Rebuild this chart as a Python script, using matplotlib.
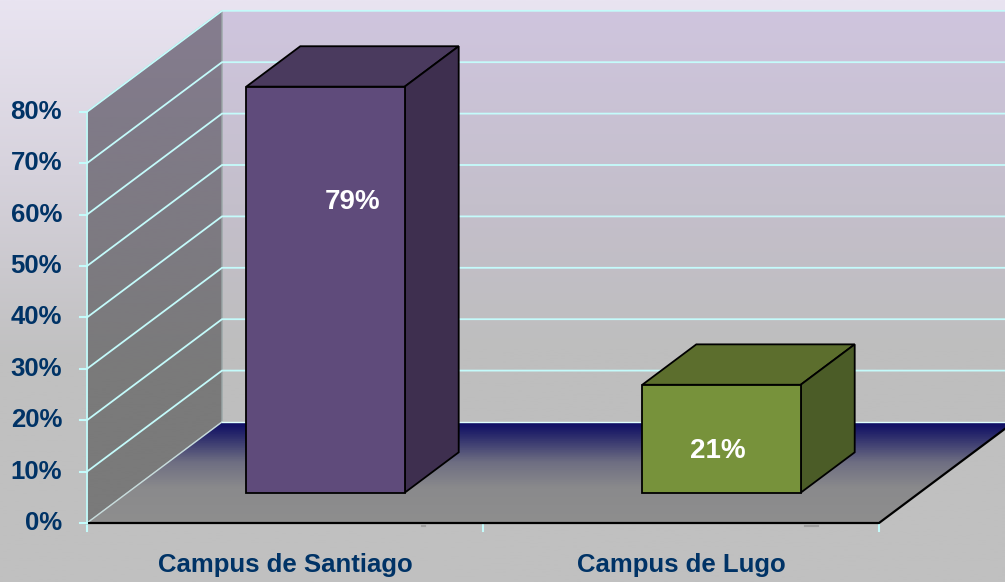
import numpy as np
import matplotlib
matplotlib.use("Agg")
import matplotlib.pyplot as plt
from matplotlib.colors import LinearSegmentedColormap
from matplotlib.patches import Polygon

plt.rcParams["font.family"] = ["Liberation Sans", "DejaVu Sans"]

categories = ["Campus de Santiago", "Campus de Lugo"]
values = [79, 21]
value_labels = ["79%", "21%"]
y_ticks = [0, 10, 20, 30, 40, 50, 60, 70, 80]
y_tick_labels = ["0%", "10%", "20%", "30%", "40%", "50%", "60%", "70%", "80%"]

face_colors = ["#5F4B7B", "#77923B"]
top_colors = ["#4A3A5E", "#5C6E2D"]
side_colors = ["#3E2F4F", "#4B5C27"]

TEXT = "#003366"
GRID = "#C4FBFB"

# one unit in x is one category (396 px), y is in percent (5.14 px per %)
PX_X = 396.0
PX_Y = 5.14
X0 = 87
Y0 = 523
DEPTH_X = 135 / PX_X
DEPTH_Y = 101 / PX_Y
BAR_W = 0.4
BAR_D0 = 0.3
BAR_D1 = 0.7


def pr(x, v, d=0.0):
    """oblique projection: category x, value v, depth d (0 front, 1 back)"""
    return x + d * DEPTH_X, v + d * DEPTH_Y


def gradient(ax, colors, stops, clip, z):
    cmap = LinearSegmentedColormap.from_list("g", list(zip(stops, colors)))
    im = ax.imshow(np.linspace(0, 1, 256).reshape(-1, 1), cmap=cmap, aspect="auto",
                   extent=[ax.get_xlim()[0], ax.get_xlim()[1], ax.get_ylim()[0], ax.get_ylim()[1]],
                   origin="upper", zorder=z)
    if clip is not None:
        patch = Polygon(clip, closed=True, transform=ax.transData, fc="none", ec="none")
        ax.add_patch(patch)
        im.set_clip_path(patch)
    return im


fig = plt.figure(figsize=(10.05, 5.82), dpi=100)
ax = fig.add_axes([0, 0, 1, 1])
ax.set_xlim(-X0 / PX_X, (1005 - X0) / PX_X)
ax.set_ylim((Y0 - 582) / PX_Y, Y0 / PX_Y)
ax.axis("off")

# figure background
gradient(ax, ["#E9E4F1", "#D6D2DC", "#C0C0C0", "#C0C0C0"], [0, 0.3, 0.62, 1], None, 0)

top = y_ticks[-1]

# back wall
wall = [pr(0, 0, 1), pr(2.2, 0, 1), pr(2.2, top, 1), pr(0, top, 1)]
gradient(ax, ["#CFC5DE", "#CFC5DE", "#C4BFCB", "#BEBEBE", "#BEBEBE"], [0, 0.02, 0.35, 0.6, 1], wall, 1)

# side wall
side = [pr(0, 0, 0), pr(0, 0, 1), pr(0, top, 1), pr(0, top, 0)]
gradient(ax, ["#867D90", "#807A88", "#7A7A7A", "#7A7A7A"], [0, 0.2, 0.65, 1], side, 2)
ax.add_patch(Polygon(side, closed=True, fc="none", ec="#9AA7A7", lw=1, zorder=2.5))

# floor
floor = [pr(0, 0, 0), pr(2, 0, 0), pr(2, 0, 1), pr(0, 0, 1)]
gradient(ax, ["#0A0A64", "#0A0A64", "#24246A", "#6E6E82", "#8A8A8C", "#8E8E8E", "#8E8E8E"],
         [0, 0.725, 0.745, 0.795, 0.84, 0.9, 1], floor, 3)

# grid lines
for v in y_ticks:
    xs, ys = zip(pr(0, v, 0), pr(0, v, 1), pr(2.4, v, 1))
    if v == 0:
        ax.plot(xs[:2], ys[:2], color="#C8DCDC", lw=1, zorder=3.5)
        ax.plot(xs[1:], ys[1:], color="#E0FFFF", lw=1, zorder=3.5)
    else:
        ax.plot(xs, ys, color=GRID, lw=1.3, zorder=2.7)

# floor edges
fx, fy = zip(pr(0, 0, 0), pr(2, 0, 0), pr(2, 0, 1))
ax.plot(fx, fy, color="black", lw=1.6, zorder=4, solid_joinstyle="miter")

# axes lines and ticks
ax.plot([0, 0], [0, top], color=GRID, lw=1.3, zorder=4)
for v in y_ticks:
    ax.plot([-7 / PX_X, 0], [v, v], color=GRID, lw=1.5, zorder=4)
for x in [0, 1, 2]:
    ax.plot([x, x], [0, -8 / PX_Y], color=GRID, lw=1.5, zorder=3.9)
for x, w in [(0.849, 3), (1.83, 13)]:
    ax.plot([x - w / 2 / PX_X, x + w / 2 / PX_X], [-3 / PX_Y, -3 / PX_Y], color="#A0A0A0", lw=1.5, zorder=3.9)

# bars
for i, val in enumerate(values):
    x0 = i + 0.5 - BAR_W / 2
    x1 = i + 0.5 + BAR_W / 2
    front = [pr(x0, 0, BAR_D0), pr(x1, 0, BAR_D0), pr(x1, val, BAR_D0), pr(x0, val, BAR_D0)]
    roof = [pr(x0, val, BAR_D0), pr(x1, val, BAR_D0), pr(x1, val, BAR_D1), pr(x0, val, BAR_D1)]
    right = [pr(x1, 0, BAR_D0), pr(x1, 0, BAR_D1), pr(x1, val, BAR_D1), pr(x1, val, BAR_D0)]
    for pts, c in [(roof, top_colors[i]), (right, side_colors[i]), (front, face_colors[i])]:
        ax.add_patch(Polygon(pts, closed=True, fc=c, ec="black", lw=1.3, zorder=5, joinstyle="miter"))

# bar labels, 79% sits high up in its bar and 21% near the middle
label_pos = [(0.5 + 68 / PX_X, 62.5), (1.5 + 37 / PX_X, 14)]
for (lx, ly), lab in zip(label_pos, value_labels):
    ax.text(lx, ly, lab, color="white", fontsize=20, fontweight="bold",
            ha="center", va="center", zorder=6)

for v, lab in zip(y_ticks, y_tick_labels):
    ax.text(-25 / PX_X, v, lab, color=TEXT, fontsize=18.5, fontweight="bold",
            ha="right", va="center", zorder=6)

for i, lab in enumerate(categories):
    ax.text(i + 0.5, -42 / PX_Y, lab, color=TEXT, fontsize=18.5, fontweight="bold",
            ha="center", va="center", zorder=6)

fig.savefig("out.png", dpi=100)
